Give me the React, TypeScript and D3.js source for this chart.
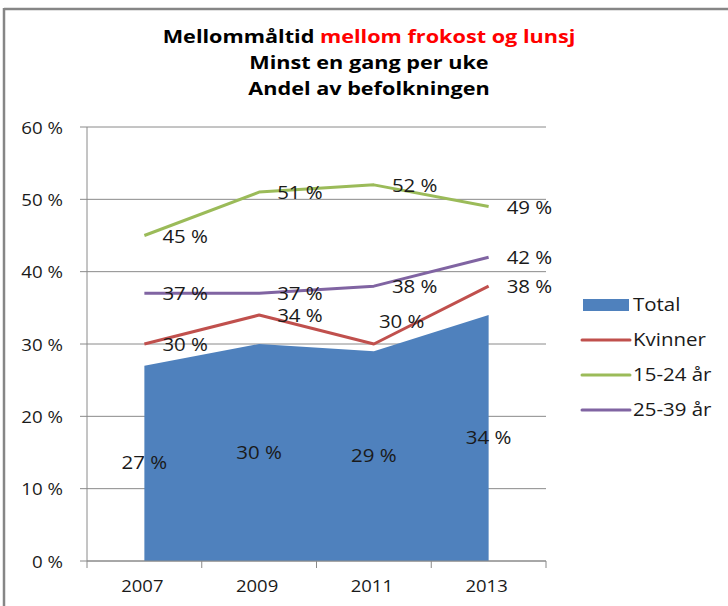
import React from 'react';
import * as d3 from 'd3';

const years = ['2007', '2009', '2011', '2013'];
const total = [27, 30, 29, 34];
const kvinner = [30, 34, 30, 38];
const age1524 = [45, 51, 52, 49];
const age2539 = [37, 37, 38, 42];
const yTicks = [0, 10, 20, 30, 40, 50, 60];

const font = '"Open Sans", "Noto Sans", sans-serif';
// the original picture is stretched a bit sideways, so text is too
const SX = 1.17;

const lineSeries = [
  { name: 'Kvinner', values: kvinner, color: '#C0504D' },
  { name: '15-24 år', values: age1524, color: '#9BBB59' },
  { name: '25-39 år', values: age2539, color: '#8064A2' },
];

type TProps = {
  x: number;
  y: number;
  anchor?: 'start' | 'middle' | 'end';
  size: number;
  weight?: string;
  fill?: string;
  children: React.ReactNode;
};

const T = ({ x, y, anchor = 'start', size, weight = 'normal', fill = '#1a1a1a', children }: TProps) => (
  <g transform={`translate(${x},${y}) scale(${SX},1)`}>
    <text textAnchor={anchor} dy="0.35em" fontSize={size} fontWeight={weight} fill={fill}>
      {children}
    </text>
  </g>
);

export default function App() {
  const width = 728;
  const height = 606;
  const plot = { left: 87, right: 546, top: 127, bottom: 561 };

  const x = d3.scaleBand().domain(years).range([plot.left, plot.right]).padding(0);
  const cx = (i: number) => (x(years[i]) as number) + x.bandwidth() / 2;
  const y = d3.scaleLinear().domain([0, 60]).range([plot.bottom, plot.top]);

  const area = d3
    .area<number>()
    .x((_, i) => cx(i))
    .y0(y(0))
    .y1((d) => y(d));

  const line = d3
    .line<number>()
    .x((_, i) => cx(i))
    .y((d) => y(d));

  const fmt = (v: number) => `${v} %`;

  return (
    <svg
      width={width}
      height={height}
      style={{ position: 'absolute', left: 0, top: 0, background: '#fff' }}
      fontFamily={font}
    >
      {/* chart border */}
      <line x1={4} y1={9} x2={728} y2={9} stroke="#868686" strokeWidth={2.5} />
      <line x1={4} y1={8} x2={4} y2={606} stroke="#868686" strokeWidth={2.5} />

      {/* title */}
      <T x={369} y={37} anchor="middle" size={18.5} weight="bold" fill="#000">
        Mellommåltid <tspan fill="#FF0000">mellom frokost og lunsj</tspan>
      </T>
      <T x={369} y={63} anchor="middle" size={18.5} weight="bold" fill="#000">
        Minst en gang per uke
      </T>
      <T x={369} y={89} anchor="middle" size={18.5} weight="bold" fill="#000">
        Andel av befolkningen
      </T>

      {/* gridlines + y ticks */}
      {yTicks.map((t) => (
        <g key={t}>
          <line x1={80} x2={plot.right} y1={y(t)} y2={y(t)} stroke="#8a8a8a" strokeWidth={1} />
          <T x={63} y={y(t) + 1} anchor="end" size={16}>
            {fmt(t)}
          </T>
        </g>
      ))}

      {/* total area */}
      <path d={area(total) ?? ''} fill="#4F81BD" />

      {/* axes */}
      <line x1={plot.left} x2={plot.left} y1={plot.top} y2={plot.bottom} stroke="#8a8a8a" />
      <line x1={plot.left} x2={plot.right} y1={plot.bottom} y2={plot.bottom} stroke="#8a8a8a" />
      {[...years.map((yr) => x(yr) as number), plot.right].map((px, i) => (
        <line key={i} x1={px} x2={px} y1={plot.bottom} y2={plot.bottom + 7} stroke="#8a8a8a" />
      ))}
      {years.map((yr, i) => (
        <T key={yr} x={cx(i) - 2} y={586} anchor="middle" size={15.8}>
          {yr}
        </T>
      ))}

      {/* lines */}
      {lineSeries.map((s) => (
        <path
          key={s.name}
          d={line(s.values) ?? ''}
          fill="none"
          stroke={s.color}
          strokeWidth={3}
          strokeLinejoin="round"
        />
      ))}

      {/* data labels */}
      {total.map((v, i) => (
        <T key={`t${i}`} x={cx(i)} y={(y(v) + y(0)) / 2} anchor="middle" size={17.5}>
          {fmt(v)}
        </T>
      ))}
      {lineSeries.map((s) =>
        s.values.map((v, i) => {
          // Kvinner 2011 label was moved up in the original
          const moved = s.name === 'Kvinner' && i === 2;
          return (
            <T
              key={`${s.name}${i}`}
              x={cx(i) + (moved ? 5 : 18)}
              y={y(v) + (moved ? -22 : 1)}
              size={17.5}
            >
              {fmt(v)}
            </T>
          );
        })
      )}

      {/* legend */}
      <rect x={583} y={299} width={46} height={12} fill="#4F81BD" />
      <T x={633} y={305} size={17.5}>
        Total
      </T>
      {lineSeries.map((s, i) => (
        <g key={s.name}>
          <line
            x1={582}
            x2={630}
            y1={340 + i * 35}
            y2={340 + i * 35}
            stroke={s.color}
            strokeWidth={3}
            strokeLinecap="round"
          />
          <T x={633} y={340 + i * 35} size={17.5}>
            {s.name}
          </T>
        </g>
      ))}
    </svg>
  );
}
